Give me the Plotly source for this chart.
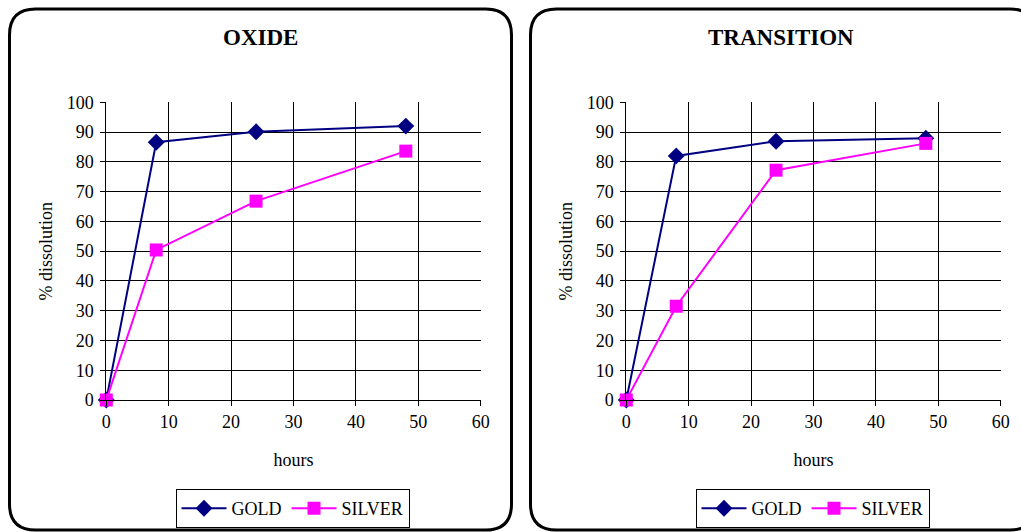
import plotly.graph_objects as go

hours = [0, 8, 24, 48]
oxide_gold = [0, 86.6, 90.1, 92.0]
oxide_silver = [0, 50.4, 66.8, 83.6]
trans_gold = [0, 82.0, 86.9, 87.9]
trans_silver = [0, 31.5, 77.2, 86.2]
panel_titles = ["OXIDE", "TRANSITION"]
series_names = ["GOLD", "SILVER"]

W, H = 1021, 532
FONT = "Liberation Serif, Times New Roman, serif"
GOLD_C = "#000080"
SILVER_C = "#FF00FF"
FS = 18


def px(x):
    return x / W


def py(y):
    return 1 - y / H


fig = go.Figure()

panels = [
    ("x", "y", "legend", oxide_gold, oxide_silver),
    ("x2", "y2", "legend2", trans_gold, trans_silver),
]
for xa, ya, lg, g, s in panels:
    fig.add_trace(go.Scatter(
        x=hours, y=g, name=series_names[0], xaxis=xa, yaxis=ya, legend=lg,
        mode="lines+markers", line=dict(color=GOLD_C, width=2),
        marker=dict(symbol="diamond", size=13, color=GOLD_C), cliponaxis=False))
    fig.add_trace(go.Scatter(
        x=hours, y=s, name=series_names[1], xaxis=xa, yaxis=ya, legend=lg,
        mode="lines+markers", line=dict(color=SILVER_C, width=2),
        marker=dict(symbol="square", size=13, color=SILVER_C), cliponaxis=False))

xdoms = [[px(106.3), px(480.7)], [px(626.3), px(1000.7)]]
ydom = [py(400), py(102.3)]

axis_common = dict(
    showgrid=True, gridcolor="#000000", gridwidth=1,
    showline=True, linecolor="#000000", linewidth=1,
    ticks="outside", ticklen=5, tickcolor="#000000",
    tickfont=dict(family=FONT, size=FS, color="#000"),
    zeroline=False, fixedrange=True,
)

for i, suf in enumerate(["", "2"]):
    fig.layout["xaxis" + suf] = dict(
        axis_common, domain=xdoms[i], range=[0, 60], dtick=10, tick0=0,
        anchor="y" + suf,
        title=dict(text="hours", font=dict(family=FONT, size=FS, color="#000"), standoff=22),
    )
    fig.layout["yaxis" + suf] = dict(
        axis_common, domain=ydom, range=[0, 100], dtick=10, tick0=0,
        anchor="x" + suf, ticklabelstandoff=3,
        title=dict(text="% dissolution", font=dict(family=FONT, size=FS, color="#000"), standoff=9),
    )

legend_common = dict(
    orientation="h", xanchor="center", yanchor="middle",
    bordercolor="#000000", borderwidth=1, bgcolor="#ffffff",
    font=dict(family=FONT, size=FS, color="#000"), itemwidth=45,
    tracegroupgap=0,
)
fig.layout.legend = dict(legend_common, x=px(292.5), y=py(508.5))
fig.layout.legend2 = dict(legend_common, x=px(812.5), y=py(508.5))


def rounded(x0, y0, x1, y1, r):
    rx, ry = r / W, r / H
    X0, X1 = px(x0), px(x1)
    Y0, Y1 = py(y0), py(y1)  # Y0 top, Y1 bottom
    return (f"M {X0 + rx},{Y0} L {X1 - rx},{Y0} Q {X1},{Y0} {X1},{Y0 - ry} "
            f"L {X1},{Y1 + ry} Q {X1},{Y1} {X1 - rx},{Y1} "
            f"L {X0 + rx},{Y1} Q {X0},{Y1} {X0},{Y1 + ry} "
            f"L {X0},{Y0 - ry} Q {X0},{Y0} {X0 + rx},{Y0} Z")


shapes = [
    dict(type="path", xref="paper", yref="paper", path=rounded(9.5, 9, 511.5, 530, 26),
         line=dict(color="#000", width=3)),
    dict(type="path", xref="paper", yref="paper", path=rounded(530.5, 9, 1036, 530, 26),
         line=dict(color="#000", width=3)),
]

annotations = [
    dict(text="<b>" + panel_titles[0] + "</b>", x=px(260), y=py(37), xref="paper", yref="paper",
         showarrow=False, font=dict(family=FONT, size=23, color="#000"), xanchor="center", yanchor="middle"),
    dict(text="<b>" + panel_titles[1] + "</b>", x=px(781), y=py(37), xref="paper", yref="paper",
         showarrow=False, font=dict(family=FONT, size=23, color="#000"), xanchor="center", yanchor="middle"),
]

fig.update_layout(
    width=W, height=H, margin=dict(l=0, r=0, t=0, b=0, autoexpand=False),
    paper_bgcolor="#ffffff", plot_bgcolor="#ffffff",
    shapes=shapes, annotations=annotations, showlegend=True,
)

fig.write_html(
    "out.html", config={"displayModeBar": False},
    post_script="document.body.style.margin='0';document.body.style.overflow='hidden';",
)
